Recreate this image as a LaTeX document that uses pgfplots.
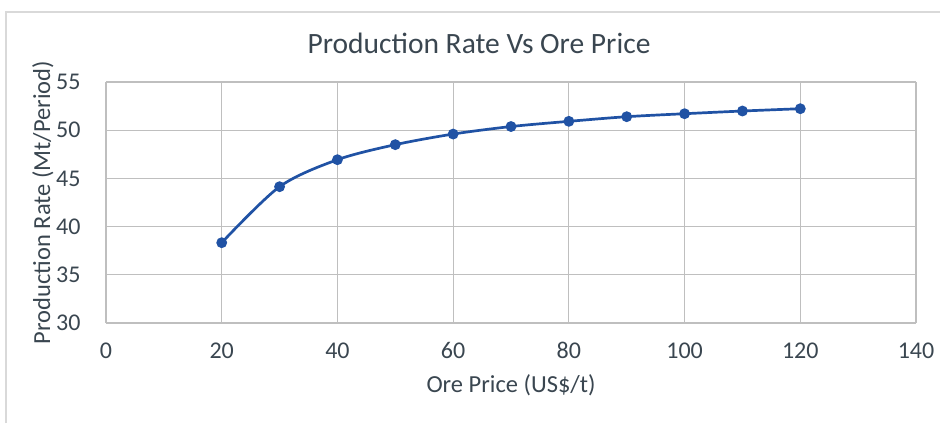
\documentclass[border=0pt]{standalone}
\usepackage{pgfplots}
\pgfplotsset{compat=1.18}
\usepackage{fontspec}
\setmainfont{Carlito}
\definecolor{txt}{RGB}{58,70,80}
\definecolor{grid}{RGB}{217,217,217}
\definecolor{ser}{RGB}{32,82,164}
\pgfplotstableread{
x y
20 38.33
30 44.14
40 46.94
50 48.50
60 49.60
70 50.38
80 50.92
90 51.40
100 51.71
110 51.99
120 52.23
}\datatable
\begin{document}
\begin{tikzpicture}[x=1bp,y=1bp]
\useasboundingbox (0,0) rectangle (940,423);
\draw[grid,line width=1.5bp] (6,0) -- (6,411) -- (940,411);
\node[txt,font=\fontsize{29.5bp}{34bp}\selectfont] at (479,380) {Production Rate Vs Ore Price};
\begin{axis}[
  at={(106bp,100bp)}, anchor=south west,
  scale only axis, width=810bp, height=241bp,
  xmin=0, xmax=140, ymin=30, ymax=55,
  xtick={0,20,...,140}, ytick={30,35,...,55},
  axis x line*=bottom, axis y line*=left,
  x axis line style={draw={rgb,255:red,191;green,191;blue,191},line width=1.2bp,-},
  y axis line style={draw=none,-},
  major tick length=0pt,
  major grid style={grid,line width=1.2bp},
  ymajorgrids=true, xmajorgrids=true,
  tick label style={txt,font=\fontsize{24bp}{28bp}\selectfont},
  /pgf/number format/assume math mode=true,
  xticklabel style={yshift=-16bp},
  yticklabel style={xshift=-22bp},
  xlabel={Ore Price (US\$/t)}, ylabel={Production Rate (Mt/Period)},
  label style={txt,font=\fontsize{24.5bp}{29bp}\selectfont},
  xlabel style={at={(axis description cs:0.5,-0.26)},anchor=center},
  ylabel style={at={(axis description cs:-0.078,0.5)},anchor=center},
  clip=false,
]
\addplot[ser, line width=2.7bp, smooth, tension=0.5, mark=*, mark size=4bp, mark options={fill=ser,draw=ser}] table[x=x,y=y] {\datatable};
\end{axis}
\end{tikzpicture}
\end{document}
